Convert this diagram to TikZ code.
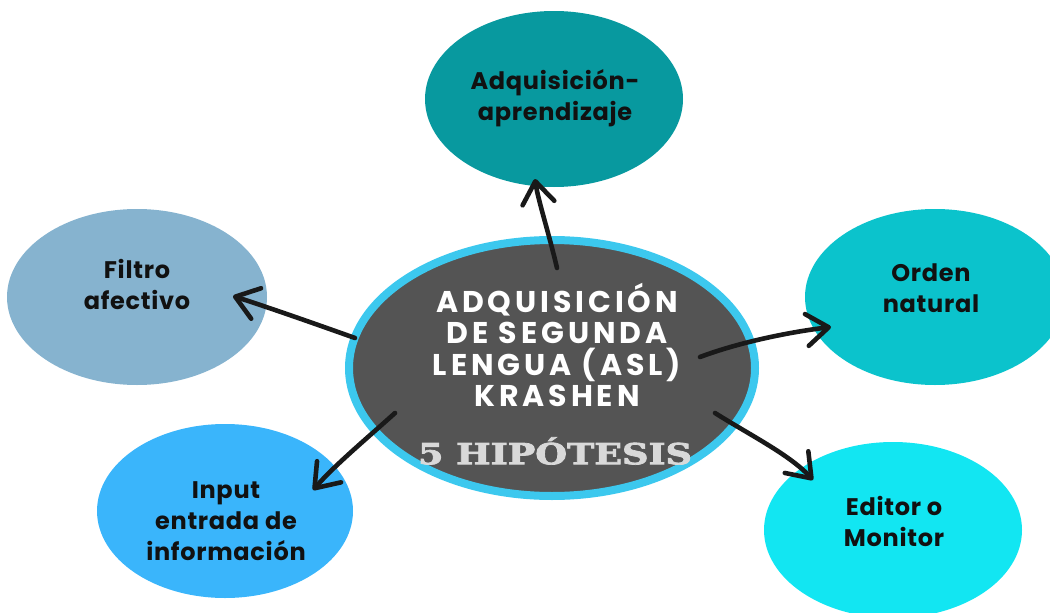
\documentclass[tikz,border=0pt]{standalone}
\usepackage{fontspec}
\usepackage{graphicx}
\setmainfont{Poppins}
\newfontfamily\satfont[LetterSpace=3]{Poppins}
\newfontfamily\hdfont[LetterSpace=13]{Poppins}
\newfontfamily\hipfont[BoldFeatures={FakeBold=2.5}]{DejaVu Serif}
\usetikzlibrary{shapes.geometric,arrows.meta}
\definecolor{cTop}{HTML}{08999F}
\definecolor{cFil}{HTML}{86B3CF}
\definecolor{cOrd}{HTML}{0BC3CC}
\definecolor{cInp}{HTML}{3AB5FB}
\definecolor{cEdi}{HTML}{12E6F2}
\definecolor{cRing}{HTML}{3CC8EE}
\definecolor{cDark}{HTML}{545454}
\definecolor{cHip}{HTML}{D9D9D9}
\definecolor{cTxt}{HTML}{111111}
\tikzset{
  blob/.style={ellipse, inner sep=0pt, minimum width=258pt, minimum height=176pt},
  lbl/.style={font=\satfont\fontsize{24}{31}\selectfont\bfseries, text=cTxt, align=center},
  hand/.style={line width=4.6pt, line cap=round, draw=black!90,
    -{Straight Barb[length=22pt,width=32pt,round]}},
}
\begin{document}
\begin{tikzpicture}[x=1pt,y=-1pt]
\useasboundingbox (0,0) rectangle (1050,613);
% satellites
\node[blob, fill=cTop] (top) at (554,99) {};
\node[blob, fill=cFil, minimum width=260pt] (fil) at (137,297) {};
\node[blob, fill=cOrd, minimum width=260pt] (ord) at (935,297) {};
\node[blob, fill=cInp, minimum width=256pt, minimum height=174pt] (inp) at (225,511) {};
\node[blob, fill=cEdi, minimum width=258pt] (edi) at (893,530) {};
% centre
\node[ellipse, fill=cDark, draw=cRing, line width=8pt, inner sep=0pt,
      minimum width=406pt, minimum height=256pt] (ctr) at (552,368) {};
% labels
\node[lbl] (ttop) at (555,98) {Adquisición-\\aprendizaje};
\node[lbl] (tfil) at (137,284) {Filtro\\afectivo};
\node[lbl] (tord) at (931,288) {Orden\\natural};
\node[lbl] (tinp) at (226,521) {Input\\entrada de\\información};
\node[lbl] (tedi) at (894,521) {Editor o\\Monitor};
\node[font=\hdfont\fontsize{30}{31.3}\selectfont\bfseries, text=white, align=center]
  (tctr) at (557,345) {ADQUISICIÓN\\DE SEGUNDA\\LENGUA (ASL)\\KRASHEN};
\node[font=\hipfont\fontsize{29}{36}\selectfont\bfseries, text=cHip]
  (thip) at (555,451) {\scalebox{1.26}[1]{5 HIPÓTESIS}};
% arrow end points
\coordinate (s1) at (557,268); \coordinate (e1) at (535,179);
\coordinate (s2) at (355,338); \coordinate (e2) at (233,296);
\coordinate (s3) at (700,357); \coordinate (e3) at (831,327);
\coordinate (s4) at (395,413); \coordinate (e4) at (313,490);
\coordinate (s5) at (715,413); \coordinate (e5) at (813,480);
\draw[hand] (s1) .. controls (548,230) and (538,200) .. (e1);
\draw[hand] (s2) .. controls (310,322) and (270,308) .. (e2);
\draw[hand] (s3) .. controls (740,342) and (790,332) .. (e3);
\draw[hand] (s4) .. controls (365,440) and (335,465) .. (e4);
\draw[hand] (s5) .. controls (750,435) and (790,455) .. (e5);
\end{tikzpicture}
\end{document}
